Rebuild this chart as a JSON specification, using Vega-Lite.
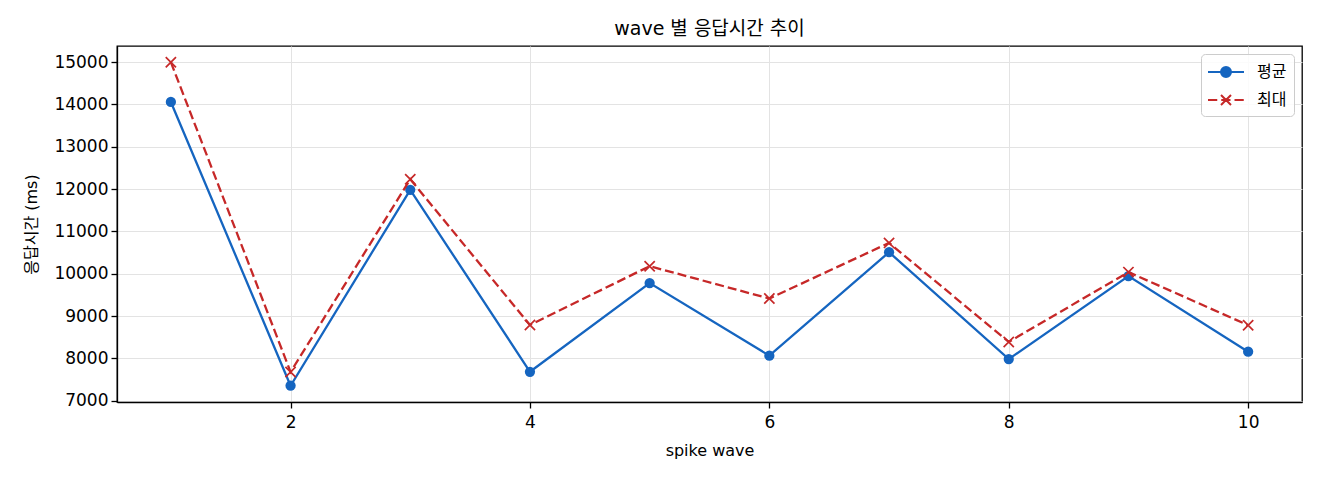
{
  "$schema": "https://vega.github.io/schema/vega-lite/v6.json",
  "autosize": {"type": "none"},
  "padding": {"left": 117, "top": 46, "right": 18, "bottom": 78},
  "width": 1185,
  "height": 356,
  "title": {
    "text": "wave 별 응답시간 추이",
    "font": "DejaVu Sans, Noto Sans CJK KR",
    "fontSize": 19,
    "fontWeight": "normal",
    "color": "#000000",
    "offset": 7
  },
  "config": {
    "font": "DejaVu Sans, Noto Sans CJK KR",
    "view": {"stroke": "#000000", "strokeWidth": 1.3},
    "axis": {
      "domainColor": "#000000",
      "domainWidth": 1.3,
      "tickColor": "#000000",
      "tickSize": 6,
      "tickWidth": 1.3,
      "labelFontSize": 17,
      "labelColor": "#000000",
      "labelFont": "DejaVu Sans, Noto Sans CJK KR",
      "titleFont": "DejaVu Sans, Noto Sans CJK KR",
      "titleFontSize": 16,
      "titleFontWeight": "normal",
      "titleColor": "#000000",
      "gridColor": "#e3e3e3",
      "gridWidth": 1
    }
  },
  "data": {
    "values": [
      {"wave": 1, "series": "평균", "ms": 14060},
      {"wave": 2, "series": "평균", "ms": 7355},
      {"wave": 3, "series": "평균", "ms": 11985},
      {"wave": 4, "series": "평균", "ms": 7685},
      {"wave": 5, "series": "평균", "ms": 9780},
      {"wave": 6, "series": "평균", "ms": 8065},
      {"wave": 7, "series": "평균", "ms": 10510},
      {"wave": 8, "series": "평균", "ms": 7985},
      {"wave": 9, "series": "평균", "ms": 9945},
      {"wave": 10, "series": "평균", "ms": 8160},
      {"wave": 1, "series": "최대", "ms": 15000},
      {"wave": 2, "series": "최대", "ms": 7680},
      {"wave": 3, "series": "최대", "ms": 12235},
      {"wave": 4, "series": "최대", "ms": 8790},
      {"wave": 5, "series": "최대", "ms": 10180},
      {"wave": 6, "series": "최대", "ms": 9415},
      {"wave": 7, "series": "최대", "ms": 10730},
      {"wave": 8, "series": "최대", "ms": 8390},
      {"wave": 9, "series": "최대", "ms": 10040},
      {"wave": 10, "series": "최대", "ms": 8785}
    ]
  },
  "encoding": {
    "x": {
      "field": "wave",
      "type": "quantitative",
      "scale": {"domain": [0.55, 10.45], "nice": false, "zero": false},
      "axis": {
        "values": [2, 4, 6, 8, 10],
        "title": "spike wave",
        "labelPadding": 6,
        "titlePadding": 12
      }
    },
    "y": {
      "field": "ms",
      "type": "quantitative",
      "scale": {"domain": [6971, 15382], "nice": false, "zero": false},
      "axis": {
        "values": [7000, 8000, 9000, 10000, 11000, 12000, 13000, 14000, 15000],
        "format": "d",
        "title": "응답시간 (ms)",
        "labelPadding": 3,
        "titlePadding": 14
      }
    }
  },
  "layer": [
    {
      "transform": [{"filter": "datum.series === '평균'"}],
      "mark": {"type": "line", "color": "#1565c0", "strokeWidth": 2.3},
      "encoding": {}
    },
    {
      "transform": [{"filter": "datum.series === '평균'"}],
      "mark": {"type": "point", "shape": "circle", "filled": true, "size": 105, "color": "#1565c0", "opacity": 1}
    },
    {
      "transform": [{"filter": "datum.series === '최대'"}],
      "mark": {"type": "line", "color": "#c62828", "strokeWidth": 2.3, "strokeDash": [9, 4]},
      "encoding": {}
    },
    {
      "transform": [{"filter": "datum.series === '최대'"}],
      "mark": {
        "type": "point",
        "shape": "M-1,-1L1,1M-1,1L1,-1",
        "filled": false,
        "size": 105,
        "color": "#c62828",
        "strokeWidth": 1.7,
        "opacity": 1
      }
    },
    {
      "mark": {"type": "point", "opacity": 0, "size": 400, "strokeWidth": 2},
      "encoding": {
        "fill": {
          "field": "series",
          "type": "nominal",
          "scale": {"domain": ["평균", "최대"], "range": ["#1565c0", "#c62828"]}
        },
        "stroke": {
          "field": "series",
          "type": "nominal",
          "scale": {"domain": ["평균", "최대"], "range": ["#1565c0", "#c62828"]}
        },
        "shape": {
          "field": "series",
          "type": "nominal",
          "scale": {
            "domain": ["평균", "최대"],
            "range": [
              "M-1.1,0L2.5,0M1.2,0A0.5,0.5 0 1 1 0.2,0A0.5,0.5 0 1 1 1.2,0Z",
              "M-1.1,0L-0.175,0M0.225,0L1.15,0M1.55,0L2.475,0M0.2,-0.5L1.2,0.5M0.2,0.5L1.2,-0.5"
            ]
          },
          "legend": {
            "title": null,
            "orient": "top-right",
            "offset": 8,
            "padding": 7,
            "rowPadding": 8,
            "labelOffset": 27,
            "labelFontSize": 16,
            "labelFont": "Noto Sans CJK KR",
            "labelColor": "#000000",
            "symbolSize": 400,
            "symbolOpacity": 1,
            "symbolStrokeWidth": 2,
            "strokeColor": "#cccccc",
            "fillColor": "rgba(255,255,255,0.85)",
            "cornerRadius": 4
          }
        }
      }
    }
  ]
}
